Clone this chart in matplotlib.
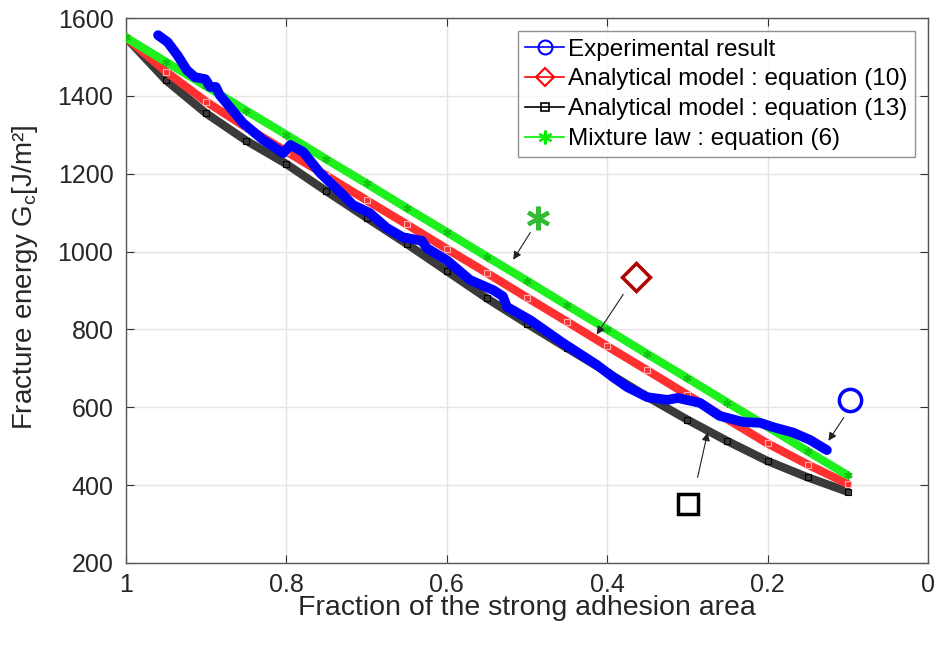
import matplotlib
matplotlib.use("Agg")
import matplotlib.pyplot as plt
from matplotlib.lines import Line2D

plt.rcParams['font.family'] = ['Liberation Sans', 'DejaVu Sans']

# model curves, fraction of strong adhesion area
frac = [1.0, 0.95, 0.9, 0.85, 0.8, 0.75, 0.7, 0.65, 0.6, 0.55,
        0.5, 0.45, 0.4, 0.35, 0.3, 0.25, 0.2, 0.15, 0.1]
g_mixture = [1550, 1487, 1425, 1362, 1300, 1237, 1175, 1112, 1050, 987,
             925, 862, 800, 737, 675, 612, 550, 487, 425]
g_eq10 = [1550, 1462, 1385, 1319, 1257, 1195, 1132, 1070, 1007, 945,
          882, 820, 757, 695, 632, 569, 507, 453, 403]
g_eq13 = [1550, 1440, 1355, 1285, 1225, 1155, 1087, 1020, 950, 880,
          815, 752, 690, 627, 568, 513, 462, 420, 383]

# experimental curve
exp_frac = [0.960, 0.948, 0.936, 0.924, 0.914, 0.901, 0.895, 0.888, 0.883,
            0.854, 0.829, 0.804, 0.795, 0.779, 0.758, 0.729, 0.717, 0.696,
            0.675, 0.655, 0.637, 0.631, 0.625, 0.600, 0.571, 0.542, 0.530,
            0.525, 0.496, 0.455, 0.413, 0.393, 0.375, 0.350, 0.325, 0.312,
            0.284, 0.260, 0.230, 0.209, 0.193, 0.168, 0.147, 0.126]
exp_g = [1556, 1538, 1505, 1466, 1448, 1443, 1423, 1423, 1402,
         1330, 1287, 1253, 1274, 1256, 1202, 1145, 1120, 1099,
         1061, 1037, 1030, 1028, 1009, 978, 927, 901, 885,
         858, 824, 765, 709, 678, 652, 626, 619, 624,
         611, 578, 562, 560, 549, 535, 516, 490]

# standalone marker labels and their arrows (tail -> head)
note_x = [0.486, 0.364, 0.097, 0.299]
note_y = [1086, 935, 619, 352]
arrow_tail = [(0.494, 1055), (0.378, 896), (0.103, 580), (0.288, 413)]
arrow_head = [(0.519, 973), (0.415, 781), (0.126, 508), (0.274, 542)]

labels = ['Experimental result', 'Analytical model : equation (10)',
          'Analytical model : equation (13)', 'Mixture law : equation (6)']

asterisk = (6, 2, 0)

fig = plt.figure(figsize=(9.38, 6.46), dpi=100)
ax = fig.add_axes([0.1343, 0.1285, 0.855, 0.8436])

ax.plot(frac, g_eq13, color='#3a3a3a', lw=6, solid_capstyle='round', zorder=2)
ax.plot(frac, g_eq13, ls='none', marker='s', ms=5, mfc='none', mec='black', mew=0.8, zorder=2)
ax.plot(frac, g_eq10, color='#ff3030', lw=6, solid_capstyle='round', zorder=3)
ax.plot(frac, g_eq10, ls='none', marker='s', ms=4, mfc='none', mec='#ffb0b0', mew=0.8, zorder=3)
ax.plot(frac, g_mixture, color='#1ef01e', lw=6, solid_capstyle='round', zorder=4)
ax.plot(frac, g_mixture, ls='none', marker=asterisk, ms=6, mec='#10c010', mew=1, zorder=4)
ax.plot(exp_frac, exp_g, color='#0000ff', lw=7, solid_capstyle='round',
        solid_joinstyle='round', zorder=5)

# big markers near the curves
ax.plot(note_x[0], note_y[0], marker=asterisk, ms=17, mec='#33bb33', mew=3, ls='none', zorder=6)
ax.plot(note_x[1], note_y[1], marker='D', ms=14, mfc='none', mec='#b00000', mew=2.5, ls='none', zorder=6)
ax.plot(note_x[2], note_y[2], marker='o', ms=16, mfc='none', mec='#0000ff', mew=2.5, ls='none', zorder=6)
ax.plot(note_x[3], note_y[3], marker='s', ms=15, mfc='none', mec='black', mew=2.5, ls='none', zorder=6)
for tail, head in zip(arrow_tail, arrow_head):
    ax.annotate('', xy=head, xytext=tail,
                arrowprops=dict(arrowstyle='-|>', color='#222222', lw=0.8,
                                mutation_scale=12), zorder=7)

ax.set_xlim(1, 0)
ax.set_ylim(200, 1600)
ax.set_xticks([1, 0.8, 0.6, 0.4, 0.2, 0])
ax.set_xticklabels(['1', '0.8', '0.6', '0.4', '0.2', '0'])
ax.set_yticks(range(200, 1601, 200))
ax.grid(True, color='#e4e4e4', lw=1)
ax.set_axisbelow(True)
ax.tick_params(direction='in', top=True, right=True, length=6, color='#333333',
               labelcolor='#262626', labelsize=18)
ax.tick_params(axis='x', pad=7)
ax.tick_params(axis='y', pad=9)
for sp in ax.spines.values():
    sp.set_color('#555555')
    sp.set_linewidth(1)

ax.set_xlabel('Fraction of the strong adhesion area', fontsize=20.5, color='#262626')
ax.set_ylabel('Fracture energy G$_\\mathregular{c}$[J/m²]', fontsize=20, color='#262626')
ax.xaxis.set_label_coords(0.5, -0.059)
ax.yaxis.set_label_coords(-0.107, 0.525)

handles = [
    Line2D([], [], color='#0000ff', marker='o', ms=10, mfc='none', mew=1.5, lw=1.2),
    Line2D([], [], color='#ff0000', marker='D', ms=9, mfc='none', mew=1.5, lw=1.2),
    Line2D([], [], color='#000000', marker='s', ms=6, mfc='none', mew=1.2, lw=1.2),
    Line2D([], [], color='#00ee00', marker=asterisk, ms=10, mew=1.5, lw=1.2),
]
leg = ax.legend(handles, labels, loc='upper right', fontsize=17.5, frameon=True,
                fancybox=False, edgecolor='#777777', handlelength=1.6,
                handletextpad=0.15, borderpad=0.3, labelspacing=0.32,
                borderaxespad=0.55)
leg.get_frame().set_linewidth(1)

fig.savefig('out.png', dpi=100)
